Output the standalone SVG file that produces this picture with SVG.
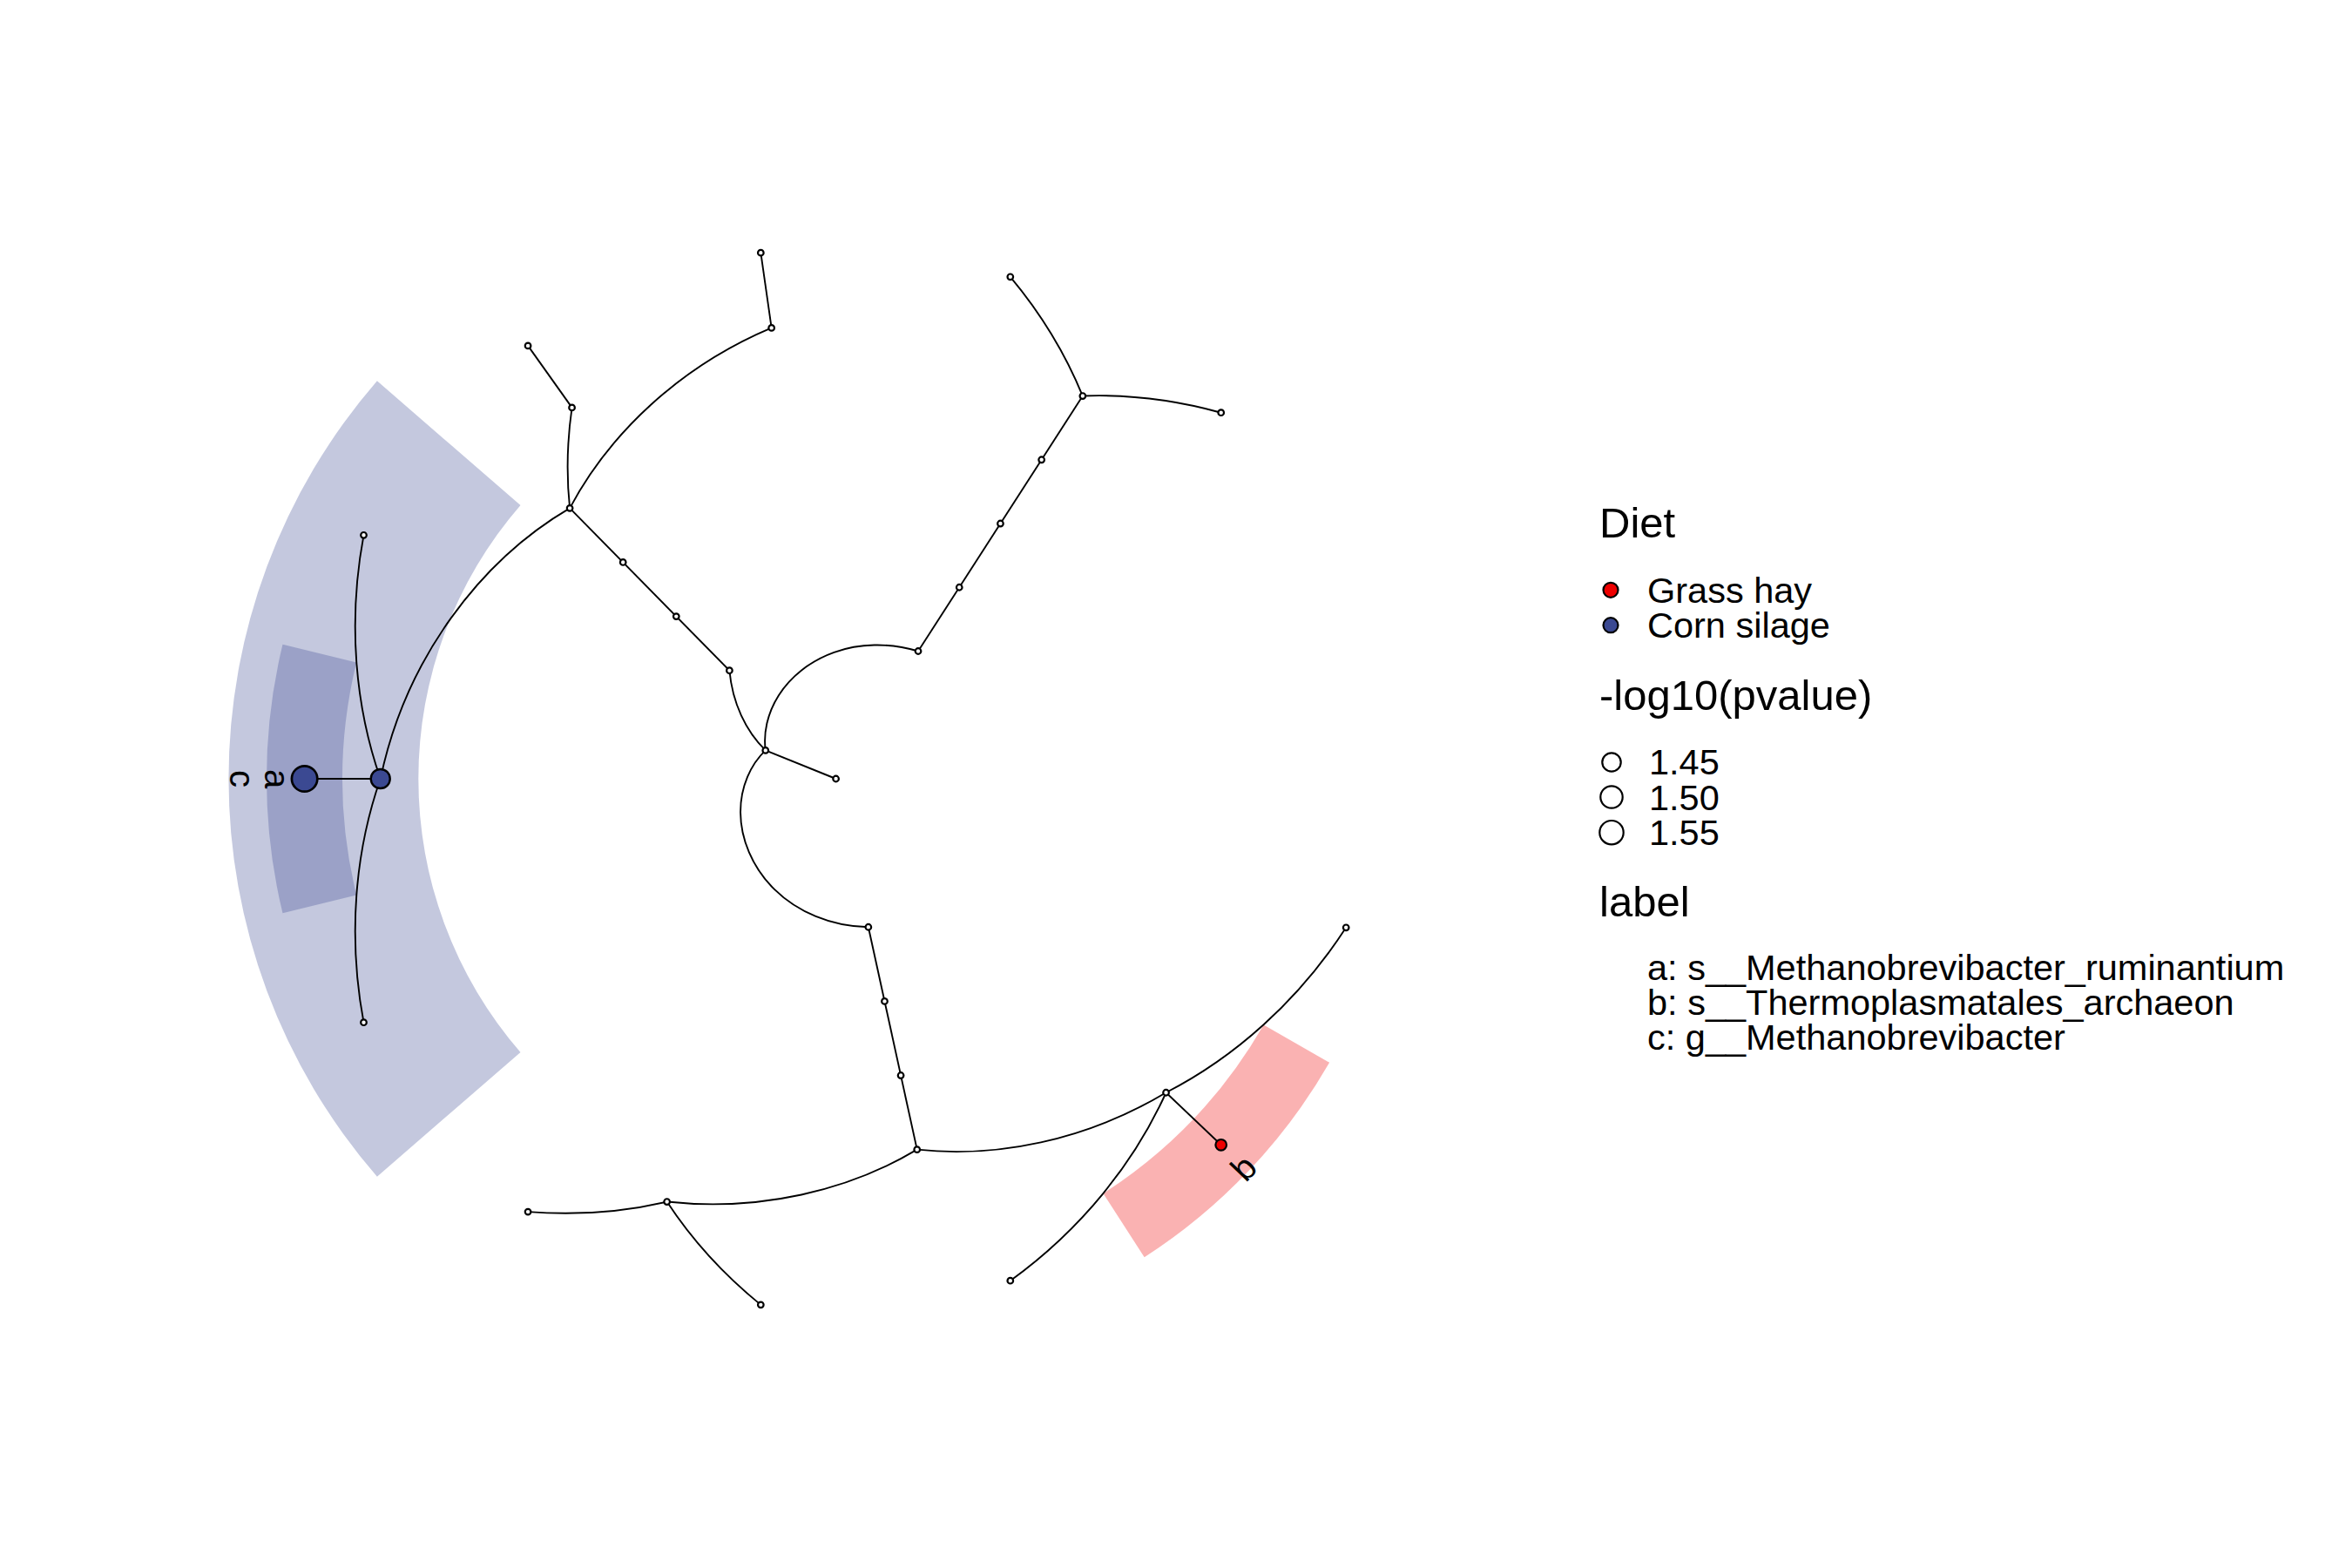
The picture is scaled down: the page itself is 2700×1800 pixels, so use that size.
<svg xmlns="http://www.w3.org/2000/svg" width="2700" height="1800" viewBox="0 0 2700 1800">
<style>
  .edge { fill: none; stroke: #000; stroke-width: 1.9; }
  .n { fill: #fff; stroke: #000; stroke-width: 2.2; }
  .blue { fill: #3B4992; stroke: #000; }
  .red { fill: #EE0000; stroke: #000; }
  .band-blue { fill: #3B4992; fill-opacity: 0.3; stroke: none; }
  .band-red { fill: #EE0000; fill-opacity: 0.3; stroke: none; }
  text { font-family: "Liberation Sans", Arial, Helvetica, sans-serif; fill: #000; }
  .title { font-size: 49px; }
  .lab { font-size: 41.5px; }
  .clade { font-size: 40px; text-anchor: middle; }
  .key { stroke: #000; stroke-width: 2.2; }
</style>
<rect width="2700" height="1800" fill="#fff"/>

<g id="highlights">
  <path class="band-blue" d="M432.90,437.28 A697.14,697.14 0 0 0 432.90,1350.72 L597.49,1208.00 A479.29,479.29 0 0 1 597.49,580.00 Z"/>
  <path class="band-blue" d="M324.48,739.82 A653.57,653.57 0 0 0 324.48,1048.18 L409.16,1027.62 A566.43,566.43 0 0 1 409.16,760.38 Z"/>
  <path class="band-red" d="M1526.15,1219.85 A653.57,653.57 0 0 1 1313.69,1443.34 L1266.48,1370.10 A566.43,566.43 0 0 0 1450.61,1176.40 Z"/>
</g>

<g id="connectors">
  <path class="edge" d="M959.6,894 L878.79,861.38"/>
  <path class="edge" d="M878.79,861.38 C856.31,839.46 840.78,807.15 837.40,769.73"/>
  <path class="edge" d="M878.79,861.38 C876.19,841.96 880.67,818.97 893.94,798.14 C907.21,777.31 929.30,758.86 957.56,748.78 C985.82,738.70 1020.14,737.19 1054.03,747.51"/>
  <path class="edge" d="M878.79,861.38 C861.95,877.24 849.85,903.07 850.05,932.71 C850.25,962.35 863.08,995.42 888.97,1020.91 C914.86,1046.40 953.73,1063.78 996.85,1064.26"/>
  <path class="edge" d="M837.40,769.73 L654.10,583.33"/>
  <path class="edge" d="M654.10,583.33 C650.18,546.45 650.85,507.63 656.57,467.91"/>
  <path class="edge" d="M654.10,583.33 C699.50,497.94 780.19,420.81 885.66,376.40"/>
  <path class="edge" d="M654.10,583.33 C551.53,643.45 465.79,755.66 436.74,894"/>
  <path class="edge" d="M656.57,467.91 L606.07,396.90"/>
  <path class="edge" d="M885.66,376.40 L873.33,290.13"/>
  <path class="edge" d="M436.74,894 C407.69,810.99 398.91,713.71 417.50,614.32"/>
  <path class="edge" d="M436.74,894 L349.6,894"/>
  <path class="edge" d="M436.74,894 C407.69,977.01 398.91,1074.29 417.50,1173.68"/>
  <path class="edge" d="M1054.03,747.51 L1242.87,454.53"/>
  <path class="edge" d="M1242.87,454.53 C1223.72,407.63 1196.02,361.12 1159.81,317.79"/>
  <path class="edge" d="M1242.87,454.53 C1293.49,452.60 1347.29,458.64 1401.71,473.72"/>
  <path class="edge" d="M996.85,1064.26 L1052.72,1319.65"/>
  <path class="edge" d="M1052.72,1319.65 C974.45,1366.51 872.78,1391.07 765.64,1379.55"/>
  <path class="edge" d="M1052.72,1319.65 C1143.40,1329.55 1246.01,1309.43 1338.55,1254.24"/>
  <path class="edge" d="M765.64,1379.55 C716.32,1391.13 662.37,1395.49 606.07,1391.10"/>
  <path class="edge" d="M765.64,1379.55 C793.41,1421.92 829.50,1462.27 873.33,1497.87"/>
  <path class="edge" d="M1338.55,1254.24 C1302.41,1334.42 1241.76,1410.99 1159.81,1470.21"/>
  <path class="edge" d="M1338.55,1254.24 L1401.71,1314.28"/>
  <path class="edge" d="M1338.55,1254.24 C1416.80,1214.09 1490.20,1149.64 1545.20,1064.80"/>
</g>

<g id="nodes">
  <g id="node-root"><circle class="n" cx="959.6" cy="894" r="3.3"/></g>
  <g id="node-n9"><circle class="n" cx="878.79" cy="861.38" r="3.3"/></g>
  <g id="node-n8"><circle class="n" cx="837.40" cy="769.73" r="3.3"/></g>
  <g id="node-n7"><circle class="n" cx="776.30" cy="707.60" r="3.3"/></g>
  <g id="node-n6"><circle class="n" cx="715.20" cy="645.47" r="3.3"/></g>
  <g id="node-n5"><circle class="n" cx="654.10" cy="583.33" r="3.3"/></g>
  <g id="node-n4"><circle class="n" cx="656.57" cy="467.91" r="3.3"/></g>
  <g id="node-t3"><circle class="n" cx="606.07" cy="396.90" r="3.3"/></g>
  <g id="node-n2"><circle class="n" cx="885.66" cy="376.40" r="3.3"/></g>
  <g id="node-t1"><circle class="n" cx="873.33" cy="290.13" r="3.3"/></g>
  <g id="node-t31"><circle class="n" cx="417.50" cy="614.32" r="3.3"/></g>
  <g id="node-t32"><circle class="n" cx="417.50" cy="1173.68" r="3.3"/></g>
  <g id="node-n11"><circle class="n" cx="1054.03" cy="747.51" r="3.3"/></g>
  <g id="node-n12"><circle class="n" cx="1101.24" cy="674.26" r="3.3"/></g>
  <g id="node-n13"><circle class="n" cx="1148.45" cy="601.02" r="3.3"/></g>
  <g id="node-n14"><circle class="n" cx="1195.66" cy="527.77" r="3.3"/></g>
  <g id="node-n15"><circle class="n" cx="1242.87" cy="454.53" r="3.3"/></g>
  <g id="node-t16"><circle class="n" cx="1159.81" cy="317.79" r="3.3"/></g>
  <g id="node-t17"><circle class="n" cx="1401.71" cy="473.72" r="3.3"/></g>
  <g id="node-n18"><circle class="n" cx="996.85" cy="1064.26" r="3.3"/></g>
  <g id="node-n19"><circle class="n" cx="1015.47" cy="1149.39" r="3.3"/></g>
  <g id="node-n20"><circle class="n" cx="1034.09" cy="1234.52" r="3.3"/></g>
  <g id="node-n21"><circle class="n" cx="1052.72" cy="1319.65" r="3.3"/></g>
  <g id="node-n22"><circle class="n" cx="765.64" cy="1379.55" r="3.3"/></g>
  <g id="node-t23"><circle class="n" cx="606.07" cy="1391.10" r="3.3"/></g>
  <g id="node-t24"><circle class="n" cx="873.33" cy="1497.87" r="3.3"/></g>
  <g id="node-n25"><circle class="n" cx="1338.55" cy="1254.24" r="3.3"/></g>
  <g id="node-t27"><circle class="n" cx="1159.81" cy="1470.21" r="3.3"/></g>
  <g id="node-t26"><circle class="n" cx="1545.20" cy="1064.80" r="3.3"/></g>
  <g id="node-c">
    <circle class="blue" cx="436.74" cy="894" r="11" stroke-width="2.4"/>
    <text class="clade" transform="translate(274,894) rotate(90)" y="10.4">c</text>
  </g>
  <g id="node-a">
    <circle class="blue" cx="349.6" cy="894" r="14.7" stroke-width="2.7"/>
    <text class="clade" transform="translate(314.6,894) rotate(90)" y="10.4">a</text>
  </g>
  <g id="node-b">
    <circle class="red" cx="1401.71" cy="1314.28" r="6.3" stroke-width="2.2"/>
    <text class="clade" transform="translate(1430,1343) rotate(-46.45)" y="10.4">b</text>
  </g>
</g>

<g id="legend">
  <text class="title" x="1836" y="617">Diet</text>
  <circle class="key" cx="1849" cy="677.3" r="8.5" fill="#EE0000"/>
  <text class="lab" x="1891" y="692">Grass hay</text>
  <circle class="key" cx="1849" cy="717.7" r="8.5" fill="#3B4992"/>
  <text class="lab" x="1891" y="732">Corn silage</text>

  <text class="title" x="1836" y="815">-log10(pvalue)</text>
  <circle class="key" cx="1850" cy="875" r="10.7" fill="#fff"/>
  <text class="lab" x="1893" y="889">1.45</text>
  <circle class="key" cx="1850" cy="915" r="12.7" fill="#fff"/>
  <text class="lab" x="1893" y="930">1.50</text>
  <circle class="key" cx="1850" cy="955.7" r="13.7" fill="#fff"/>
  <text class="lab" x="1893" y="970">1.55</text>

  <text class="title" x="1836" y="1052">label</text>
  <text class="lab" x="1891" y="1125">a: s__Methanobrevibacter_ruminantium</text>
  <text class="lab" x="1891" y="1165">b: s__Thermoplasmatales_archaeon</text>
  <text class="lab" x="1891" y="1205">c: g__Methanobrevibacter</text>
</g>
</svg>
